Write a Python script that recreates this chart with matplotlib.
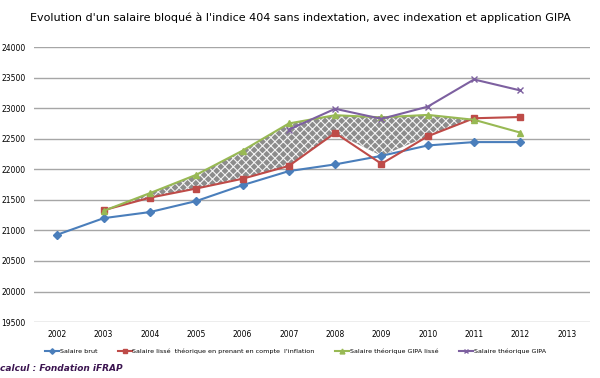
import numpy as np
import matplotlib
matplotlib.use("Agg")
import matplotlib.pyplot as plt

years = ["2002", "2003", "2004", "2005", "2006", "2007", "2008", "2009", "2010", "2011", "2012", "2013"]

# valeurs (None = pas de point)
salaire_brut = [20930, 21200, 21300, 21480, 21740, 21970, 22080, 22220, 22390, 22445, 22445, None]
salaire_lisse = [None, 21330, 21535, 21685, 21845, 22055, 22595, 22090, 22540, 22835, 22855, None]
gipa_lisse = [None, 21320, 21610, 21910, 22305, 22750, 22885, 22850, 22890, 22810, 22600, None]
gipa = [None, None, None, None, None, 22650, 22990, 22825, 23025, 23470, 23290, None]

labels = ["Salaire brut",
          "Salaire lissé  théorique en prenant en compte  l'inflation",
          "Salaire théorique GIPA lissé",
          "Salaire théorique GIPA"]
colors = ["#4a7ebb", "#be4b48", "#98b954", "#7d60a0"]
markers = ["D", "s", "^", "x"]


def to_arr(vals):
    return np.array([np.nan if v is None else v for v in vals], dtype=float)


fig = plt.figure(figsize=(6, 3.78), dpi=100)
ax = fig.add_axes([0.057, 0.148, 0.926, 0.7275])

x = np.arange(len(years))

# zone hachurée entre GIPA lissé et max(lissé, brut), de 2003 à 2011
g = to_arr(gipa_lisse)
low = np.fmax(to_arr(salaire_lisse), to_arr(salaire_brut))
mask = (x >= 1) & (x <= 9)
plt.rcParams["hatch.linewidth"] = 0.8
ax.fill_between(x[mask], low[mask], g[mask], facecolor="#8c8c8c",
                edgecolor="#f4f4f4", hatch="xxxx", linewidth=0, zorder=1)

series = [salaire_brut, salaire_lisse, gipa_lisse, gipa]
sizes = [4, 5, 5, 5]
for vals, lab, c, m, ms in zip(series, labels, colors, markers, sizes):
    ax.plot(x, to_arr(vals), color=c, marker=m, markersize=ms, linewidth=1.5,
            label=lab, zorder=3)

ax.set_xlim(-0.5, len(years) - 0.5)
ax.set_ylim(19500, 24000)
ax.set_yticks(np.arange(19500, 24001, 500))
ax.set_xticks(x)
ax.set_xticklabels(years)
ax.tick_params(labelsize=5.5, length=0, pad=6)
ax.yaxis.grid(True, color="#a6a6a6", linewidth=1)
ax.set_axisbelow(True)
for s in ax.spines.values():
    s.set_visible(False)

fig.text(0.5, 0.952, "Evolution d'un salaire bloqué à l'indice 404 sans indextation, avec indexation et application GIPA",
         ha="center", va="center", fontsize=8)

ax.legend(loc="upper center", bbox_to_anchor=(0.47, -0.075), ncol=4, frameon=False,
          fontsize=4.6, handlelength=2.2, columnspacing=3.2, handletextpad=0.1,
          markerscale=0.7)

fig.text(0.0, 0.026, "calcul : Fondation iFRAP", fontsize=6.5, fontweight="bold",
         fontstyle="italic", color="#3b1450", ha="left", va="center")

fig.savefig("out.png", dpi=100)
